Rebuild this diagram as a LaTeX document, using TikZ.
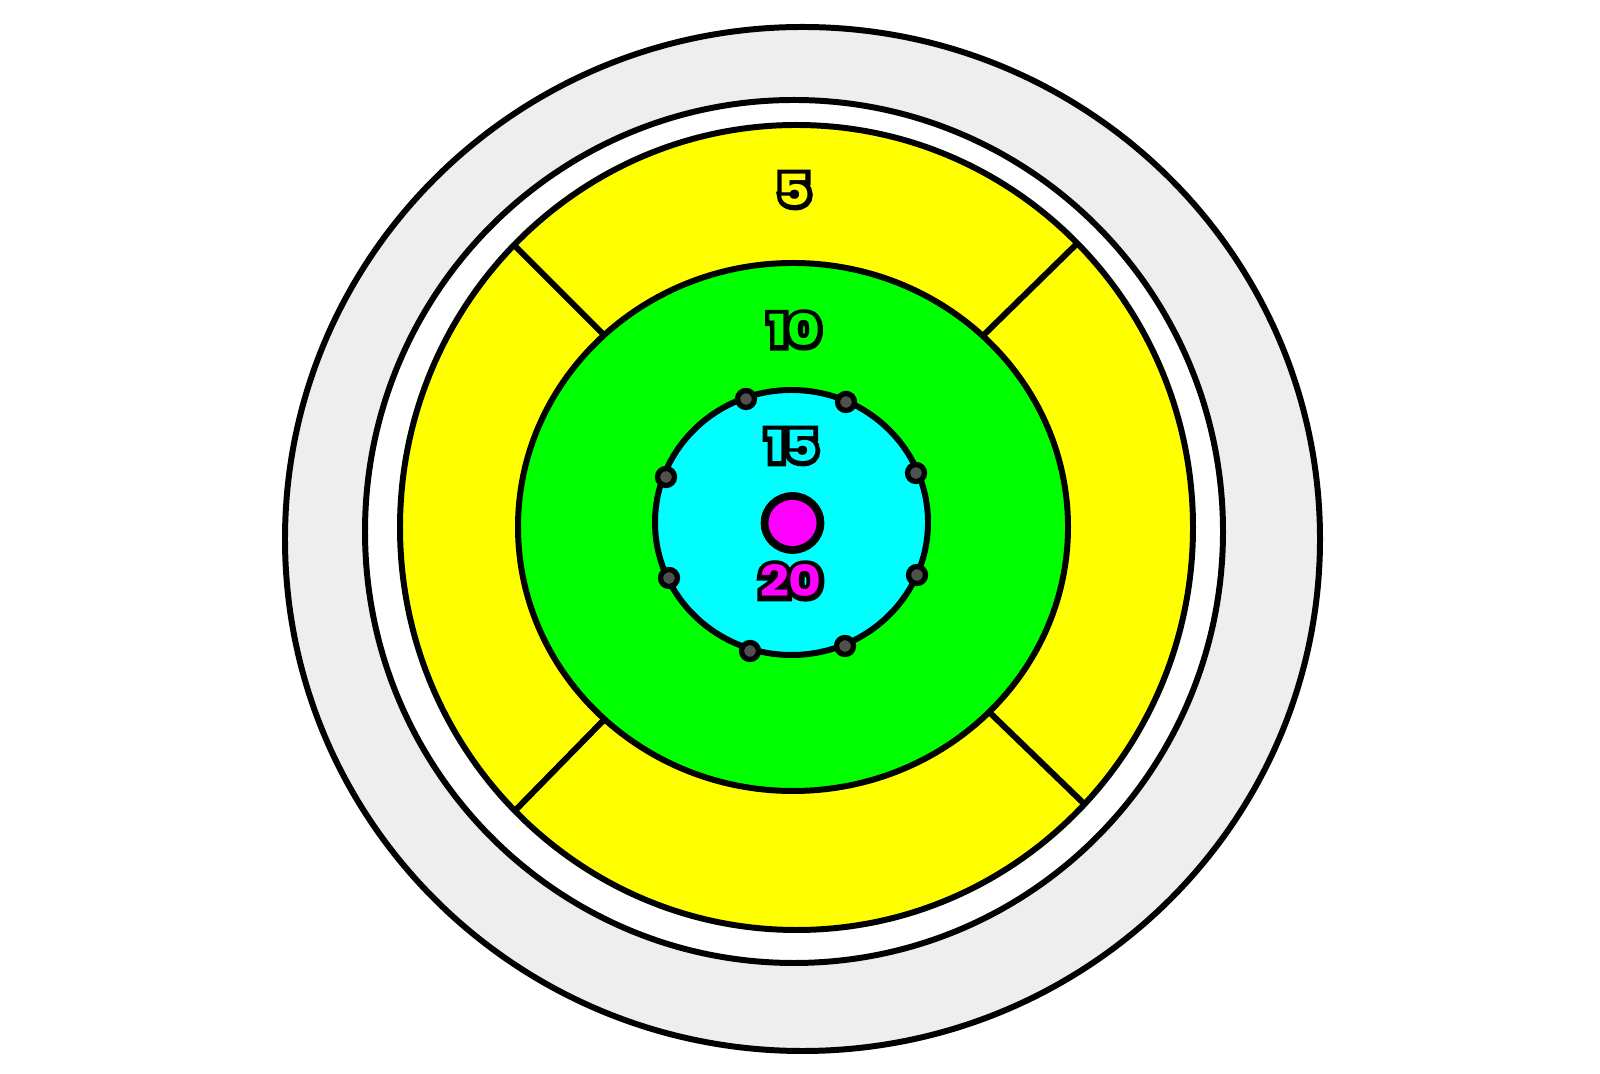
\documentclass[tikz,border=0pt]{standalone}
\usepackage{fontspec}
\setmainfont{Poppins}
\newfontfamily\scoreout{Poppins}[BoldFeatures={FakeBold=22,FakeStretch=1.18}]
\newfontfamily\scorefill{Poppins}[BoldFeatures={FakeStretch=1.18}]
\definecolor{ringgray}{HTML}{EEEEEE}
\definecolor{ryellow}{HTML}{FFFF00}
\definecolor{rgreen}{HTML}{00FF00}
\definecolor{rcyan}{HTML}{00FFFF}
\definecolor{rmag}{HTML}{FF00FF}
\definecolor{dotgray}{HTML}{505050}
\begin{document}
\begin{tikzpicture}[x=0.01cm,y=-0.01cm,
  ring/.style={draw=black,line width=1.7pt},
  divider/.style={draw=black,line width=1.7pt},
  pin/.style={circle,draw=black,line width=1.5pt,fill=dotgray,minimum size=0.17cm,inner sep=0pt},
  scoreback/.style={font=\scoreout\fontsize{12.2}{12.2}\selectfont\bfseries,inner sep=0pt,text=black},
  scoretext/.style={font=\scorefill\fontsize{12.2}{12.2}\selectfont\bfseries,inner sep=0pt}]
\useasboundingbox (0,0) rectangle (1600,1074);
\fill[white] (0,0) rectangle (1600,1074);
% rings
\path[ring,fill=ringgray] (802.5,539) ellipse [x radius=517.5,y radius=512];
\path[ring,fill=white] (794,531.5) ellipse [x radius=429,y radius=431.5];
\fill[ryellow] (796.5,527.5) ellipse [x radius=396.5,y radius=402.5];
% dividers, clipped to the yellow band
\begin{scope}
  \clip (796.5,527.5) ellipse [x radius=396.5,y radius=402.5];
  \draw[divider] (500,231) -- (640,371);
  \draw[divider] (1095,226) -- (950,368);
  \draw[divider] (640,683) -- (498,828);
  \draw[divider] (955,679) -- (1105,824);
\end{scope}
\draw[ring] (796.5,527.5) ellipse [x radius=396.5,y radius=402.5];
\path[ring,fill=rgreen] (793,527) ellipse [x radius=275,y radius=264];
\path[ring,fill=rcyan] (791.5,522.5) ellipse [x radius=136.5,y radius=132.5];
\path[ring,line width=2.2pt,fill=rmag] (792.5,523) ellipse [x radius=28,y radius=27];
% pins
\foreach \px/\py [count=\i] in {746/399,846/402,666/477,916/473,669/578,917/575,750/651,845/646}
  \node[pin] (pin\i) at (\px,\py) {};
% scores
\foreach \tx/\ty/\lab/\col [count=\i] in {794/190/5/ryellow,794.5/330/10/rgreen,792/446/15/rcyan,791/581/20/rmag}{
  \node[scoreback] (scoreback\i) at (\tx,\ty) {\lab};
  \node[scoretext,text=\col] (score\i) at (scoreback\i.center) {\lab};
}
\end{tikzpicture}
\end{document}
